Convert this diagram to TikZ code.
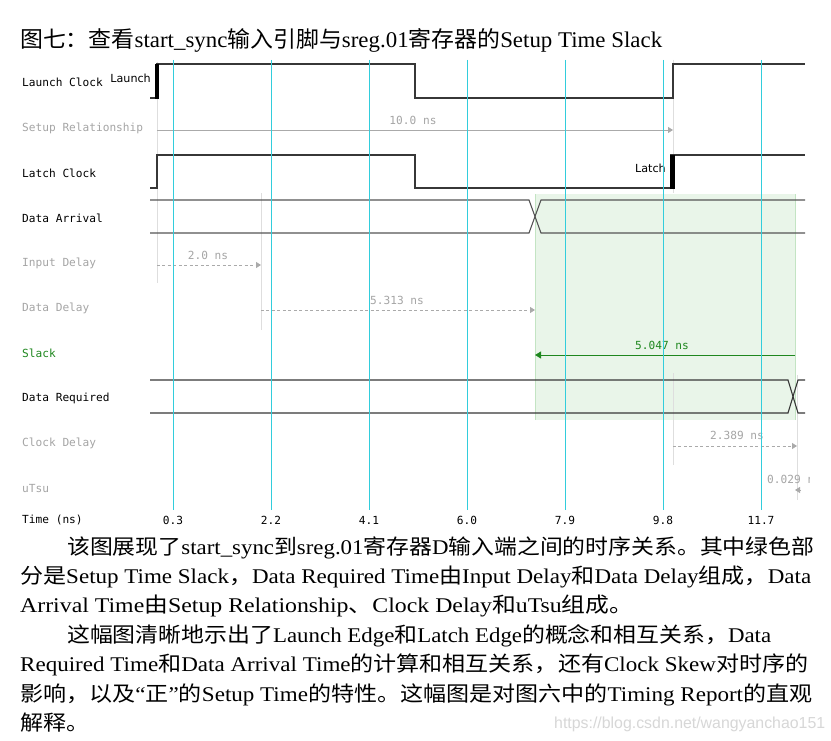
\documentclass[tikz,border=0pt]{standalone}
\usepackage{fontspec}
\usepackage{graphicx}
\setmainfont{Liberation Serif}
\newfontfamily\zh{Noto Sans CJK SC}
\newfontfamily\monof{DejaVu Sans Mono}
\newfontfamily\sansf{DejaVu Sans}
\newfontfamily\wmf{Liberation Sans}
\usetikzlibrary{arrows.meta}
\definecolor{gridcyan}{RGB}{50,205,220}
\definecolor{wavec}{RGB}{55,55,55}
\definecolor{wavegray}{RGB}{85,85,85}
\definecolor{labgray}{RGB}{165,165,165}
\definecolor{arrgray}{RGB}{170,170,170}
\definecolor{slackg}{RGB}{30,135,30}
\definecolor{greenfill}{RGB}{233,245,233}
\definecolor{greenedge}{RGB}{195,228,195}
\definecolor{faintc}{RGB}{222,222,222}
\definecolor{wmc}{RGB}{215,215,215}
\newcommand{\plinebox}[2]{\resizebox{#1bp}{\height}{\fontsize{21}{21}\selectfont #2}}
\tikzset{
  lab/.style={anchor=west, inner sep=0pt, font=\monof\fontsize{11.2}{13}\selectfont},
  labg/.style={lab, text=labgray},
  val/.style={inner sep=0pt, font=\monof\fontsize{11.2}{13}\selectfont, text=labgray},
  ticklab/.style={inner sep=0pt, font=\monof\fontsize{11.2}{13}\selectfont},
  edgelab/.style={inner sep=0pt, font=\sansf\fontsize{11.2}{12}\selectfont},
  wave/.style={draw=wavec, line width=1.1pt},
  wave2/.style={draw=wavegray, line width=1.1pt},
  gridline/.style={color=gridcyan, line width=0.8pt},
  faint/.style={draw=faintc, line width=0.8pt},
  garrow/.style={draw=arrgray, line width=0.8pt, -{Triangle[length=5bp,width=6bp]}},
  gdash/.style={garrow, dash pattern=on 3pt off 2.5pt},
  sarrow/.style={draw=slackg, line width=0.9pt, -{Triangle[length=6bp,width=7bp]}},
  pline/.style={anchor=base west, inner sep=0pt}
}
\begin{document}
\begin{tikzpicture}[x=1bp,y=-1bp]
\useasboundingbox[fill=white] (0,0) rectangle (831,741);
% title
\node[pline] (title) at (20,48) {\resizebox{642bp}{\height}{\fontsize{22.5}{22.5}\selectfont{\zh 图七：查看}start\_sync{\zh 输入引脚与}sreg.01{\zh 寄存器的}Setup Time Slack}};
% green slack region
\fill[greenfill] (535,194) rectangle (795,420);
\draw[greenedge, line width=1pt] (535,194) -- (535,420);
\draw[greenedge, line width=1pt] (795,194) -- (795,420);
% faint vertical markers
\draw[faint] (157,62) -- (157,283);
\draw[faint] (261,193) -- (261,330);
\draw[faint] (673,60) -- (673,193);
\draw[faint] (673,373) -- (673,465);
\draw[faint] (797,375) -- (797,500);
% row labels
\node[lab] (lLaunch) at (22,82.5) {Launch Clock};
\node[labg] (lSetup) at (22,128) {Setup Relationship};
\node[lab] (lLatch) at (22,173) {Latch Clock};
\node[lab] (lArr) at (22,218) {Data Arrival};
\node[labg] (lIn) at (22,263) {Input Delay};
\node[labg] (lDD) at (22,308) {Data Delay};
\node[lab, text=slackg] (lSlack) at (22,353) {Slack};
\node[lab] (lReq) at (22,398) {Data Required};
\node[labg] (lCD) at (22,443) {Clock Delay};
\node[labg] (lTsu) at (22,489) {uTsu};
\node[lab] (lTime) at (22,520) {Time (ns)};
% launch clock
\draw[wave] (150,98) -- (157,98) -- (157,64) -- (415,64) -- (415,98) -- (673,98) -- (673,64) -- (805,64);
\fill[black] (154.5,64) rectangle (159,98.5);
\node[edgelab, anchor=east] (launchtxt) at (151,78) {Launch};
% latch clock
\draw[wave] (150,188) -- (157,188) -- (157,155) -- (415,155) -- (415,188) -- (671,188) -- (671,155) -- (805,155);
\fill[black] (670,155) rectangle (675,188.5);
\node[edgelab, anchor=east] (latchtxt) at (666,168) {Latch};
% data arrival
\draw[wave2] (150,200) -- (529,200) -- (541,233) -- (805,233);
\draw[wave2] (150,233) -- (529,233) -- (541,200) -- (805,200);
% data required
\draw[wave] (150,380) -- (788,380) -- (798,413) -- (805,413);
\draw[wave] (150,413) -- (788,413) -- (798,380) -- (805,380);
% arrows
\coordinate (srA) at (157,130); \coordinate (srB) at (673,130);
\draw[garrow] (srA) -- (srB);
\node[val] (srL) at (413,120) {10.0 ns};
\coordinate (idA) at (157,265); \coordinate (idB) at (261,265);
\draw[gdash] (idA) -- (idB);
\node[val] (idL) at (208,255) {2.0 ns};
\coordinate (ddA) at (261,310); \coordinate (ddB) at (535,310);
\draw[gdash] (ddA) -- (ddB);
\node[val] (ddL) at (397,300) {5.313 ns};
\coordinate (slA) at (795,355); \coordinate (slB) at (535,355);
\draw[sarrow] (slA) -- (slB);
\node[val, text=slackg] (slL) at (662,345) {5.047 ns};
\coordinate (cdA) at (673,446); \coordinate (cdB) at (797,446);
\draw[gdash] (cdA) -- (cdB);
\node[val] (cdL) at (737,435) {2.389 ns};
\coordinate (tsA) at (801,490); \coordinate (tsB) at (795,490);
\draw[garrow] (tsA) -- (tsB);
\begin{scope}
\clip (740,470) rectangle (809,490);
\node[val, anchor=west] (tsL) at (767,479.5) {0.029 ns};
\end{scope}
% grid lines and time axis
\draw[gridline] (173,60) -- (173,510);
\draw[gridline] (271,60) -- (271,510);
\draw[gridline] (369,60) -- (369,510);
\draw[gridline] (467,60) -- (467,510);
\draw[gridline] (565,60) -- (565,510);
\draw[gridline] (663,60) -- (663,510);
\draw[gridline] (761,60) -- (761,510);
\node[ticklab] (t1) at (173,520) {0.3};
\node[ticklab] (t2) at (271,520) {2.2};
\node[ticklab] (t3) at (369,520) {4.1};
\node[ticklab] (t4) at (467,520) {6.0};
\node[ticklab] (t5) at (565,520) {7.9};
\node[ticklab] (t6) at (663,520) {9.8};
\node[ticklab] (t7) at (761,520) {11.7};
% paragraph
\node[pline] (p1) at (67,554) {\plinebox{747}{{\zh 该图展现了}start\_sync{\zh 到}sreg.01{\zh 寄存器}D{\zh 输入端之间的时序关系。其中绿色部}}};
\node[pline] (p2) at (20,583.5) {\plinebox{791}{{\zh 分是}Setup Time Slack{\zh ，}Data Required Time{\zh 由}Input Delay{\zh 和}Data Delay{\zh 组成，}Data}};
\node[pline] (p3) at (20,612.5) {\plinebox{613}{Arrival Time{\zh 由}Setup Relationship{\zh 、}Clock Delay{\zh 和}uTsu{\zh 组成。}}};
\node[pline] (p4) at (67,642) {\plinebox{704}{{\zh 这幅图清晰地示出了}Launch Edge{\zh 和}Latch Edge{\zh 的概念和相互关系，}Data}};
\node[pline] (p5) at (20,671) {\plinebox{788}{Required Time{\zh 和}Data Arrival Time{\zh 的计算和相互关系，还有}Clock Skew{\zh 对时序的}}};
\node[pline] (p6) at (20,701) {\plinebox{792}{{\zh 影响，以及}“{\zh 正}”{\zh 的}Setup Time{\zh 的特性。这幅图是对图六中的}Timing Report{\zh 的直观}}};
\node[pline] (p7) at (20,730) {\scalebox{1.1}[1]{\fontsize{21}{21}\selectfont\zh 解释。}};
% watermark
\node[pline] (wm) at (554,728) {\resizebox{271bp}{\height}{\wmf\fontsize{16}{16}\selectfont\color{wmc}https://blog.csdn.net/wangyanchao151}};
\end{tikzpicture}
\end{document}
